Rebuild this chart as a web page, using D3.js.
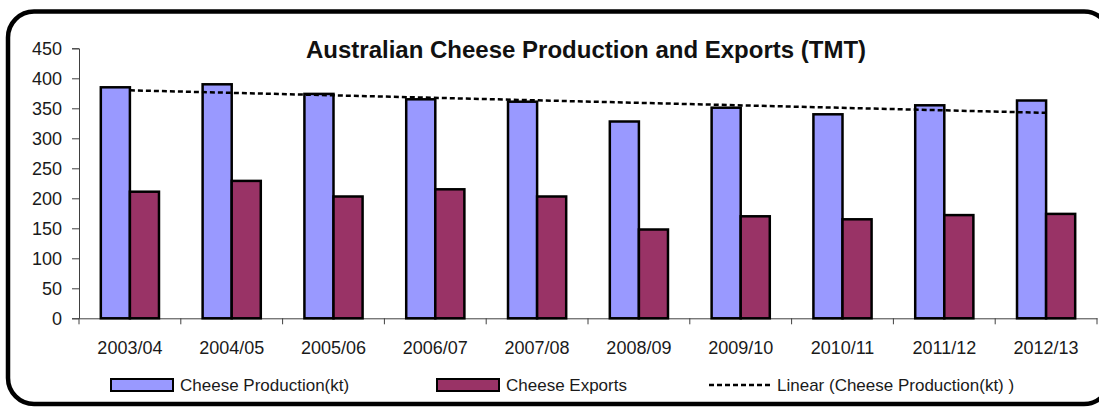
<!DOCTYPE html>
<html>
<head>
<meta charset="utf-8">
<script src="https://cdn.jsdelivr.net/npm/d3@7/dist/d3.min.js"></script>
<style>
  html, body { margin: 0; padding: 0; background: #fff; }
  svg { display: block; font-family: "Liberation Sans", Arial, sans-serif; }
</style>
</head>
<body>
<svg id="chart" width="1099" height="407"></svg>
<script>
// Seasons on the category axis
const seasons = ["2003/04", "2004/05", "2005/06", "2006/07", "2007/08",
                 "2008/09", "2009/10", "2010/11", "2011/12", "2012/13"];
// Cheese production, thousand tonnes
const production = [385, 390, 374, 365, 361, 328, 351, 340, 355, 363];
// Cheese exports, thousand tonnes
const exportsKt = [211, 229, 203, 215, 203, 148, 170, 165, 172, 174];
// Value axis ticks
const yTicks = [0, 50, 100, 150, 200, 250, 300, 350, 400, 450];

const titleText = "Australian Cheese Production and Exports (TMT)";
const seriesNames = ["Cheese Production(kt)", "Cheese Exports", "Linear (Cheese Production(kt) )"];
const colors = ["#9999FF", "#993366"];

const svg = d3.select("#chart");

// Rounded chart frame (its right side runs past the page edge)
svg.append("rect")
  .attr("x", 8).attr("y", 11.5)
  .attr("width", 1102).attr("height", 392.5)
  .attr("rx", 26).attr("ry", 26)
  .attr("fill", "#fff")
  .attr("stroke", "#000")
  .attr("stroke-width", 4.5);

const plot = { left: 79, right: 1097, top: 48.3, bottom: 318.3 };

const x = d3.scaleBand()
  .domain(seasons)
  .range([plot.left, plot.right])
  .paddingInner(0).paddingOuter(0);

const y = d3.scaleLinear()
  .domain([0, 450])
  .range([plot.bottom, plot.top]);

// Two bars per season with a 150% gap between groups
const bw = x.bandwidth() / 3.5;
const gap = x.bandwidth() * 0.75 / 3.5;

const rows = seasons.map((s, i) => ({ s, p: production[i], e: exportsKt[i] }));

// Axes
const yAxis = svg.append("g")
  .attr("transform", `translate(${plot.left},0)`)
  .call(d3.axisLeft(y).tickValues(yTicks).tickSizeOuter(0).tickSize(7).tickPadding(10));
yAxis.select(".domain").attr("stroke", "#404040");
yAxis.selectAll(".tick line").attr("stroke", "#404040");
yAxis.selectAll(".tick text")
  .attr("font-size", "18px")
  .attr("fill", "#1a1a1a")
  .attr("font-family", "Liberation Sans, Arial, sans-serif");

const xAxis = svg.append("g")
  .attr("transform", `translate(0,${plot.bottom})`)
  .call(d3.axisBottom(x).tickSize(0).tickPadding(0));
xAxis.select(".domain").attr("stroke", "#404040");
xAxis.selectAll(".tick text")
  .attr("y", 0).attr("dy", 0)
  .attr("transform", "translate(0,36)")
  .attr("font-size", "18px")
  .attr("fill", "#1a1a1a")
  .attr("font-family", "Liberation Sans, Arial, sans-serif");

// Tick marks on the category boundaries
const boundaries = seasons.map(s => x(s)).concat([x(seasons[seasons.length - 1]) + x.bandwidth()]);
xAxis.selectAll("line.boundary")
  .data(boundaries)
  .join("line")
  .attr("class", "boundary")
  .attr("x1", d => d).attr("x2", d => d)
  .attr("y1", 0).attr("y2", 6)
  .attr("stroke", "#404040");

// Bars
const groups = svg.append("g").selectAll("g")
  .data(rows)
  .join("g")
  .attr("transform", d => `translate(${x(d.s)},0)`);

groups.append("rect")
  .attr("x", gap)
  .attr("y", d => y(d.p))
  .attr("width", bw)
  .attr("height", d => y(0) - y(d.p))
  .attr("fill", colors[0])
  .attr("stroke", "#000")
  .attr("stroke-width", 2.5);

groups.append("rect")
  .attr("x", gap + bw)
  .attr("y", d => y(d.e))
  .attr("width", bw)
  .attr("height", d => y(0) - y(d.e))
  .attr("fill", colors[1])
  .attr("stroke", "#000")
  .attr("stroke-width", 2.5);

// Least-squares trend of production
const n = production.length;
const xs = d3.range(n);
const mx = d3.mean(xs), my = d3.mean(production);
const slope = d3.sum(xs, i => (i - mx) * (production[i] - my)) / d3.sum(xs, i => (i - mx) ** 2);
const intercept = my - slope * mx;
const trend = xs.map(i => ({ s: seasons[i], v: intercept + slope * i }));

svg.append("path")
  .datum([trend[0], trend[n - 1]])
  .attr("d", d3.line().x(d => x(d.s) + x.bandwidth() / 2).y(d => y(d.v)))
  .attr("fill", "none")
  .attr("stroke", "#000")
  .attr("stroke-width", 2.5)
  .attr("stroke-dasharray", "5,3");

// Title
svg.append("text")
  .attr("x", 586).attr("y", 58)
  .attr("text-anchor", "middle")
  .attr("font-size", "24px")
  .attr("font-weight", "bold")
  .attr("fill", "#111")
  .text(titleText);

// Legend
const legend = svg.append("g");
const lg = [
  { x: 111, color: colors[0], name: seriesNames[0] },
  { x: 437, color: colors[1], name: seriesNames[1] }
];
lg.forEach(d => {
  legend.append("rect")
    .attr("x", d.x).attr("y", 379)
    .attr("width", 62).attr("height", 12)
    .attr("fill", d.color)
    .attr("stroke", "#000")
    .attr("stroke-width", 2);
  legend.append("text")
    .attr("x", d.x + 69).attr("y", 391)
    .attr("font-size", "17px")
    .attr("fill", "#1a1a1a")
    .text(d.name);
});
legend.append("line")
  .attr("x1", 709).attr("x2", 771)
  .attr("y1", 385).attr("y2", 385)
  .attr("stroke", "#000")
  .attr("stroke-width", 2.5)
  .attr("stroke-dasharray", "5,3");
legend.append("text")
  .attr("x", 777).attr("y", 391)
  .attr("font-size", "17px")
  .attr("fill", "#1a1a1a")
  .text(seriesNames[2]);
</script>
</body>
</html>
